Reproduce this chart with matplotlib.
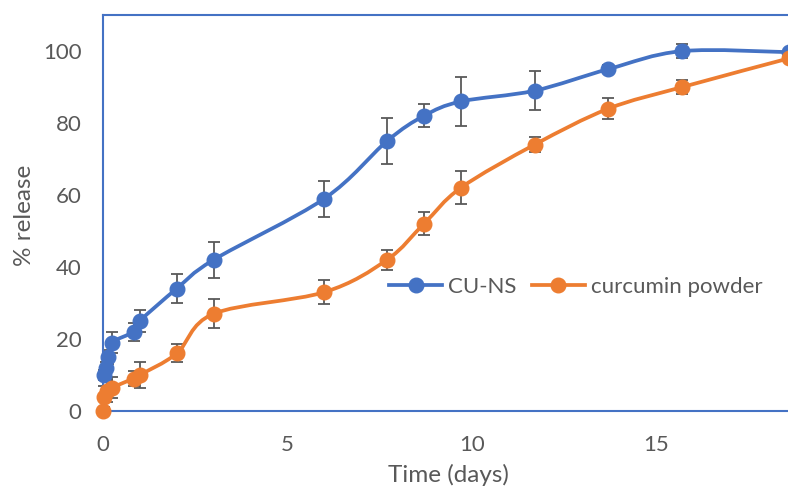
import numpy as np
import matplotlib.pyplot as plt
from matplotlib.path import Path
from matplotlib.patches import PathPatch

plt.rcParams['font.family'] = ['Lato', 'DejaVu Sans']

# release data
t_cuns = [0.02, 0.08, 0.125, 0.25, 0.83, 1, 2, 3, 6, 7.7, 8.7, 9.7, 11.7, 13.7, 15.7, 18.6]
cuns = [10, 12, 15, 19, 22, 25, 34, 42, 59, 75, 82, 86, 89, 95, 100, 99.7]
cuns_err = [1.5, 1.5, 2, 3, 2.5, 3, 4, 5, 5, 6.3, 3.2, 6.7, 5.5, 1, 2, 0]

t_powder = [0, 0.02, 0.1, 0.25, 0.83, 1, 2, 3, 6, 7.7, 8.7, 9.7, 11.7, 13.7, 15.7, 18.6]
powder = [0, 4, 5.5, 6.5, 9, 10, 16, 27, 33, 42, 52, 62, 74, 84, 90, 98]
powder_err = [0, 3, 3, 3, 2, 3.5, 2.5, 4, 3.4, 2.8, 3.2, 4.6, 2, 3, 2, 0]

xticks = [0, 5, 10, 15]
yticks = [0, 20, 40, 60, 80, 100]

BLUE = '#4472C4'
ORANGE = '#ED7D31'
GREY = '#595959'


def smooth_path(x, y):
    # excel style smoothed line: cubic bezier, catmull-rom control points
    p = np.column_stack([x, y]).astype(float)
    n = len(p)
    verts = [p[0]]
    codes = [Path.MOVETO]
    for i in range(n - 1):
        p0 = p[i - 1] if i > 0 else p[i]
        p1 = p[i]
        p2 = p[i + 1]
        p3 = p[i + 2] if i + 2 < n else p[i + 1]
        verts += [p1 + (p2 - p0) / 6, p2 - (p3 - p1) / 6, p2]
        codes += [Path.CURVE4] * 3
    return Path(verts, codes)


fig = plt.figure(figsize=(7.88, 4.88), dpi=100)
ax = fig.add_axes([0.1307, 0.158, 0.8693, 0.811])

for tt, yy, ee, col, lab in [(t_cuns, cuns, cuns_err, BLUE, 'CU-NS'),
                              (t_powder, powder, powder_err, ORANGE, 'curcumin powder')]:
    ax.add_patch(PathPatch(smooth_path(tt, yy), facecolor='none', edgecolor=col,
                           lw=2.7, clip_on=False, zorder=3, capstyle='round'))
    ax.errorbar(tt, yy, yerr=ee, fmt='none', ecolor=GREY, elinewidth=1.3,
                capsize=4.5, capthick=1.3, zorder=2, clip_on=False)
    ax.plot(tt, yy, 'o', color=col, ms=10.5, zorder=4, clip_on=False)
    ax.plot([], [], '-o', color=col, lw=2.7, ms=10.5, label=lab)

ax.set_xlim(0, 18.57)
ax.set_ylim(0, 110)
ax.set_xticks(xticks)
ax.set_yticks(yticks)
ax.tick_params(length=0, labelsize=16, labelcolor=GREY)
ax.tick_params(axis='x', pad=17)
ax.tick_params(axis='y', pad=15.5)

for s in ['left', 'top', 'bottom']:
    ax.spines[s].set_color(BLUE)
    ax.spines[s].set_linewidth(1.5)
ax.spines['right'].set_visible(False)

ax.set_xlabel('Time (days)', fontsize=17.5, color=GREY)
ax.set_ylabel('% release', fontsize=17.5, color=GREY)
ax.xaxis.set_label_coords(0.505, -0.134)
ax.yaxis.set_label_coords(-0.099, 0.495)

ax.legend(loc='center', bbox_to_anchor=(0.69, 0.313), ncol=2, frameon=False,
          fontsize=16, labelcolor=GREY, handlelength=2.4, columnspacing=0.7,
          handletextpad=0.25)

fig.savefig('out.png', dpi=100)
